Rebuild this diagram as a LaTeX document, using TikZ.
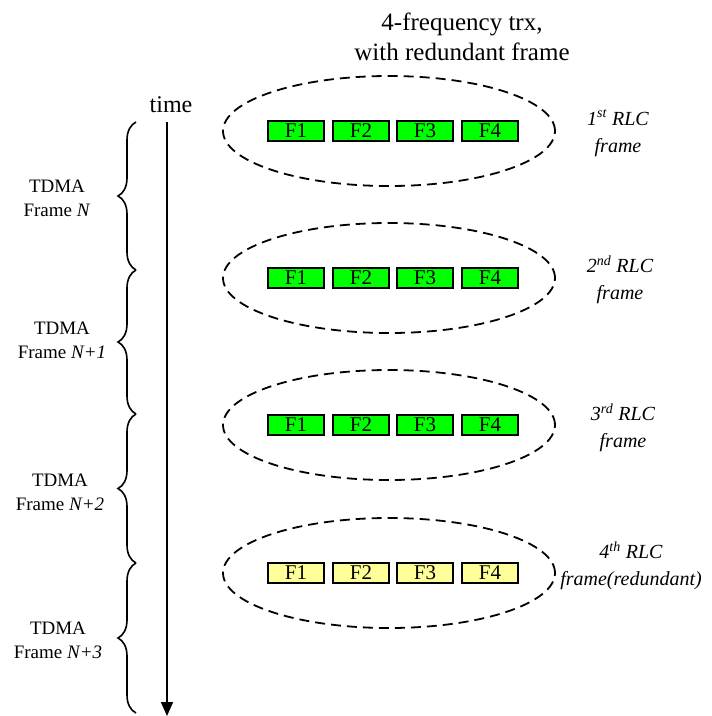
\documentclass[tikz,border=0pt]{standalone}
\usepackage{fontspec}
\setmainfont{Liberation Serif}
\usetikzlibrary{shapes.geometric,decorations.pathreplacing,arrows.meta}
\definecolor{boxgreen}{HTML}{00FF00}
\definecolor{boxyellow}{HTML}{FFFF99}
\tikzset{
  fbox/.style={draw, line width=1.6pt, minimum width=56pt, minimum height=20pt, inner sep=0pt,
    font=\fontsize{21}{21}\selectfont},
  gbox/.style={fbox, fill=boxgreen},
  ybox/.style={fbox, fill=boxyellow},
  rlcell/.style={ellipse, draw, dash pattern=on 10pt off 6pt, line width=1.8pt,
    minimum width=332pt, minimum height=110pt, inner sep=0pt},
  rlclab/.style={align=center, font=\fontsize{20}{27}\selectfont\itshape},
  tdmalab/.style={align=center, font=\fontsize{19}{24}\selectfont},
  bracestyle/.style={decorate, decoration={brace, amplitude=18pt, aspect=0.5}, line width=1.6pt},
}
\begin{document}
\begin{tikzpicture}[x=1pt,y=-1pt]
\useasboundingbox (0,0) rectangle (712,716);
% title
\node[align=center, font=\fontsize{25}{30}\selectfont] (title) at (462,37) {4-frequency trx,\\with redundant frame};
% time axis
\node[font=\fontsize{24}{24}\selectfont, anchor=south] (time) at (171,116) {time};
\coordinate (t0) at (167,122);
\coordinate (t1) at (167,716);
\draw[line width=1.6pt, -{Triangle[length=14pt,width=12pt]}] (t0) -- (t1);
% braces
\coordinate (b0) at (136,122);
\coordinate (b1) at (136,270);
\coordinate (b2) at (136,414);
\coordinate (b3) at (136,563);
\coordinate (b4) at (136,713);
\draw[bracestyle] (b1) -- (b0);
\draw[bracestyle] (b2) -- (b1);
\draw[bracestyle] (b3) -- (b2);
\draw[bracestyle] (b4) -- (b3);
\node[tdmalab] (l1) at (57,198) {TDMA\\Frame \textit{N}};
\node[tdmalab] (l2) at (62,340) {TDMA\\Frame \textit{N+1}};
\node[tdmalab] (l3) at (60,492) {TDMA\\Frame \textit{N+2}};
\node[tdmalab] (l4) at (58,640) {TDMA\\Frame \textit{N+3}};
% ellipses and boxes
\foreach \i/\y/\sty in {1/131/gbox, 2/278/gbox, 3/425/gbox, 4/573/ybox}{
  \node[rlcell] (e\i) at (389,\y) {};
  \node[\sty] (f\i a) at (296,\y) {F1};
  \node[\sty] (f\i b) at (361,\y) {F2};
  \node[\sty] (f\i c) at (425,\y) {F3};
  \node[\sty] (f\i d) at (490,\y) {F4};
}
\node[rlclab] (r1) at (618,133) {1\textsuperscript{st} RLC\\frame};
\node[rlclab] (r2) at (620,280) {2\textsuperscript{nd} RLC\\frame};
\node[rlclab] (r3) at (623,428) {3\textsuperscript{rd} RLC\\frame};
\node[rlclab] (r4) at (631,566) {4\textsuperscript{th} RLC\\frame(redundant)};
\end{tikzpicture}
\end{document}
